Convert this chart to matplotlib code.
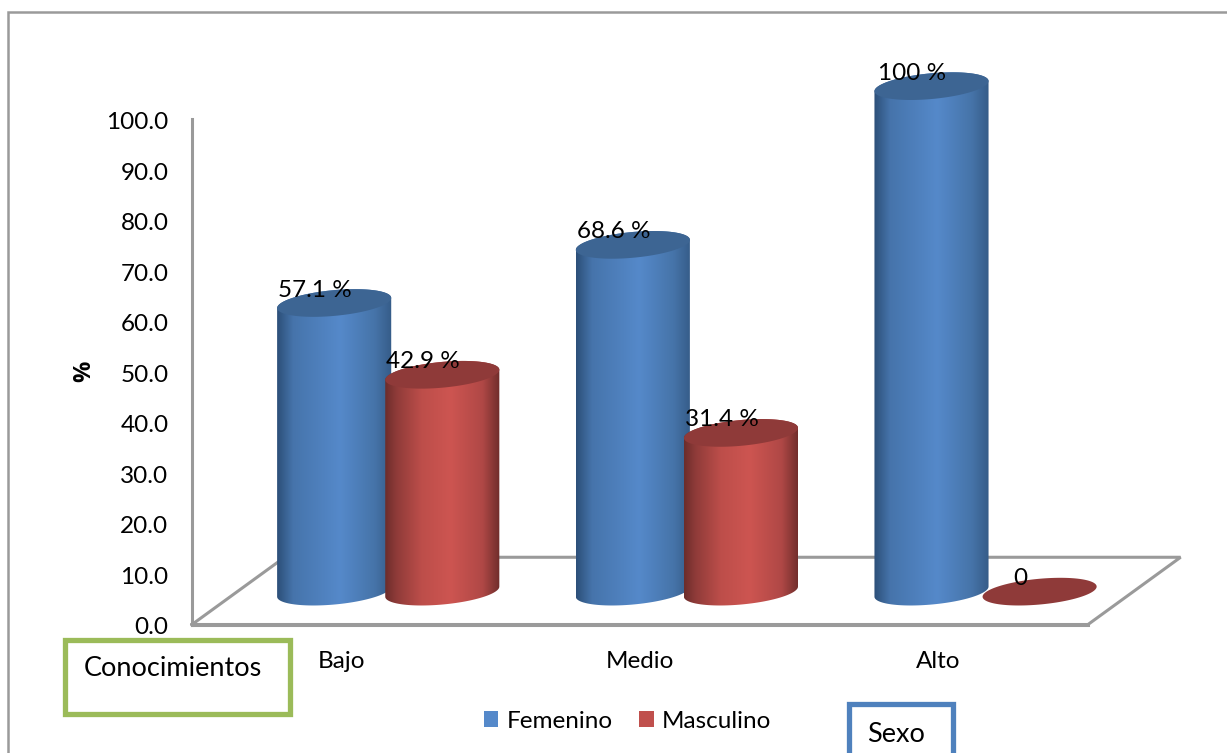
import numpy as np
import matplotlib
matplotlib.use("Agg")
import matplotlib.pyplot as plt
from matplotlib.colors import LinearSegmentedColormap
from matplotlib.patches import Patch, Polygon, Rectangle
from matplotlib.path import Path
from matplotlib.transforms import ScaledTranslation

categories = ["Bajo", "Medio", "Alto"]
femenino = [57.1, 68.6, 100.0]
masculino = [42.9, 31.4, 0.0]
femenino_labels = ["57.1 %", "68.6 %", "100 %"]
masculino_labels = ["42.9 %", "31.4 %", "0"]
series_names = ["Femenino", "Masculino"]
y_ticks = [0, 10, 20, 30, 40, 50, 60, 70, 80, 90, 100]

W, H = 1227, 753
plt.rcParams["font.family"] = ["Lato", "DejaVu Sans"]

BLUE_STOPS = [(0, "#2c4f78"), (0.14, "#4674ab"), (0.55, "#5589ca"), (0.85, "#4674a9"), (1, "#355c88")]
RED_STOPS = [(0, "#6c2d2b"), (0.10, "#8f3b39"), (0.32, "#bd4e4a"), (0.57, "#cd5551"), (0.85, "#b04846"), (1, "#6f2d2b")]
BLUE_TOP = "#3d6593"
RED_TOP = "#8f3a39"
GRAY = "#9a9a9a"

# Cylinder geometry, in data units of the axes
HALF_W = 0.191
HALF_H = 2.55
TILT = 1.0
OFFSET = 0.362
GROUP_CENTER = 0.517
DEPTH_X, DEPTH_Y = 0.14, 6.5
FLOOR_X, FLOOR_Y = 0.31, 13.3


def px_rect(x0, y0, x1, y1, **kw):
    """Figure-level rectangle given by its pixel corners, origin at top left."""
    return Rectangle((x0 / W, 1 - y1 / H), (x1 - x0) / W, (y1 - y0) / H,
                     transform=fig.transFigure, **kw)


def rim(cx, cy, t):
    return np.column_stack([cx + HALF_W * np.cos(t),
                            cy + HALF_H * np.sin(t) + TILT * np.cos(t)])


def cylinder(ax, x, value, stops, top_color, zorder):
    cx = x + DEPTH_X
    base = DEPTH_Y
    top = base + value
    if value > 0:
        outline = np.vstack([rim(cx, top, np.linspace(0, np.pi, 60)),
                             rim(cx, base, np.linspace(np.pi, 2 * np.pi, 60))])
        cmap = LinearSegmentedColormap.from_list("shade", stops)
        img = ax.imshow(np.linspace(0, 1, 256).reshape(1, -1), cmap=cmap, aspect="auto",
                        extent=[cx - HALF_W, cx + HALF_W, base - HALF_H - 1, top + HALF_H + 1],
                        zorder=zorder, interpolation="bilinear")
        img.set_clip_path(Path(np.vstack([outline, outline[:1]]), closed=True), ax.transData)
        img.set_clip_box(fig.bbox)
    lid = Polygon(rim(cx, top, np.linspace(0, 2 * np.pi, 120)), closed=True,
                  facecolor=top_color, edgecolor="none", zorder=zorder + 0.1, clip_on=False)
    ax.add_patch(lid)


def value_label(ax, x, value, text):
    ax.annotate(text, (x + DEPTH_X, DEPTH_Y + value), xytext=(-19.5, 13),
                textcoords="offset pixels", ha="center", va="center",
                fontsize=17.5, color="black", zorder=20, annotation_clip=False)


fig = plt.figure(figsize=(W / 100, H / 100), dpi=100, facecolor="white")
ax = fig.add_axes([192 / W, 1 - 624.5 / H, 896 / W, 505.5 / H], facecolor="none")

fig.add_artist(px_rect(8, 12, 1300, 800, facecolor="none", edgecolor=GRAY, linewidth=1.8))

# Floor of the 3D plot
fx = [0, FLOOR_X, 3 + FLOOR_X, 3, 0]
fy = [0, FLOOR_Y, FLOOR_Y, 0, 0]
ax.plot(fx, fy, color=GRAY, linewidth=2.2, clip_on=False, zorder=1, solid_joinstyle="miter")

for i in range(len(categories)):
    x_f = i + GROUP_CENTER - OFFSET / 2
    x_m = i + GROUP_CENTER + OFFSET / 2
    cylinder(ax, x_f, femenino[i], BLUE_STOPS, BLUE_TOP, 3 + i)
    cylinder(ax, x_m, masculino[i], RED_STOPS, RED_TOP, 3.5 + i)
    value_label(ax, x_f, femenino[i], femenino_labels[i])
    value_label(ax, x_m, masculino[i], masculino_labels[i])

ax.set_xlim(0, 3)
ax.set_ylim(0, 100)
ax.set_xticks([i + 0.5 for i in range(len(categories))], categories)
ax.set_yticks(y_ticks, [f"{v:.1f}" for v in y_ticks])
ax.tick_params(axis="y", length=0, pad=17, labelsize=17.5)
ax.tick_params(axis="x", length=0, pad=19, labelsize=17.5)

# Nudge the value-axis labels down slightly so they sit level with their gridline positions
nudge = ScaledTranslation(0, -1.5 / 100, fig.dpi_scale_trans)
for label in ax.get_yticklabels():
    label.set_transform(label.get_transform() + nudge)

ax.set_ylabel("%", fontsize=17, fontweight="bold", family=["Open Sans", "DejaVu Sans"], va="center")
ax.yaxis.set_label_coords((84 - 192) / 896, 0.5)
for side in ("top", "right"):
    ax.spines[side].set_visible(False)
for side in ("left", "bottom"):
    ax.spines[side].set_color(GRAY)
    ax.spines[side].set_linewidth(2.2)

fig.legend(handles=[Patch(facecolor=BLUE_STOPS[2][1], label=series_names[0]),
                    Patch(facecolor="#c0504d", label=series_names[1])],
           loc="center", bbox_to_anchor=(627.5 / W, 1 - 721 / H), ncol=2, frameon=False,
           fontsize=17.5, handlelength=0.6, handleheight=0.6, handletextpad=0.33, columnspacing=1.1)

# Hand-placed captions around the chart
fig.add_artist(px_rect(65, 640, 289.5, 713.5, facecolor="white", edgecolor="#9bbb59", linewidth=3.8))
fig.text(84 / W, 1 - 669 / H, "Conocimientos", fontsize=19.5, va="center", ha="left")
fig.add_artist(px_rect(849, 704, 952.5, 800, facecolor="white", edgecolor="#4f81bd", linewidth=3.8))
fig.text(867 / W, 1 - 735 / H, "Sexo", fontsize=19.5, va="center", ha="left")

fig.savefig("out.png", dpi=100)
